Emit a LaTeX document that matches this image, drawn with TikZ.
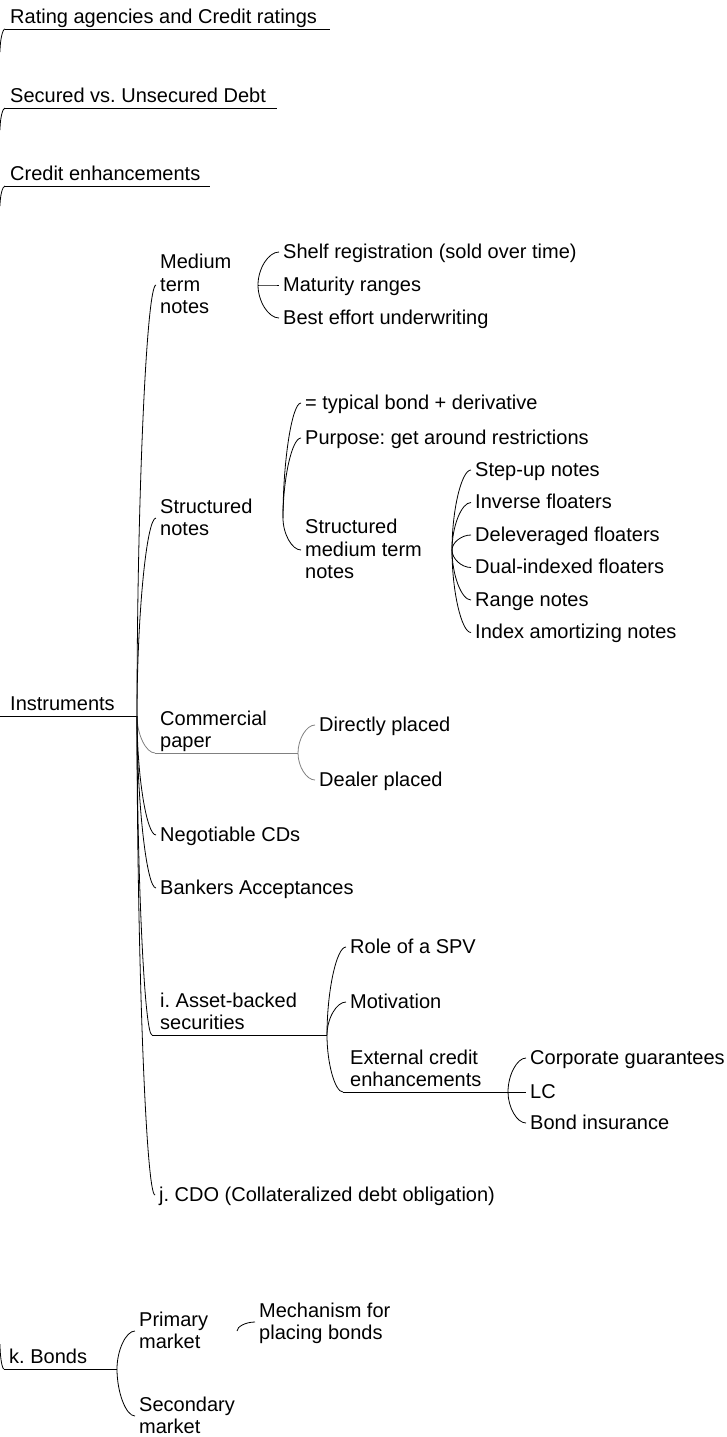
\documentclass[tikz,border=0pt]{standalone}
\usepackage{fontspec}
\setmainfont{Liberation Sans}
\usetikzlibrary{calc}
\frenchspacing

% text block of a topic: one or more left-aligned lines
\newcommand\topictext[1]{\begin{tabular}{@{}l@{}}#1\end{tabular}}
% topic font with a strut centred on the letters
\newcommand\mapfont{\fontsize{20}{22.5}\selectfont\setbox\strutbox\hbox{\vrule height 17.5pt depth 5pt width 0pt}}

\tikzset{
  topic/.style={anchor=west, inner xsep=4pt, inner ysep=0pt, font=\mapfont},
  lined/.style={topic, anchor=south west},
  link/.style={line width=0.8pt, draw=black},
  soft/.style={draw=black!50},
}

% curved connector: leaves the junction vertically, reaches the topic horizontally
\newcommand\conn[3][]{\draw[link,#1] let \p1=(#2), \p2=(#3) in
  (#2) .. controls (\x1,{0.5*\y1+0.5*\y2}) and ({0.5*\x1+0.5*\x2},\y2) .. (#3);}

\begin{document}
\begin{tikzpicture}[x=1pt,y=-1pt]
\useasboundingbox (0,0) rectangle (727,1437);

% ---------------- main topics on the left ----------------
\node[lined, inner xsep=5pt] (rat) at (5,29) {\topictext{Rating agencies and Credit ratings}};
\coordinate (ratj) at (330,29);
\coordinate (rat0) at (0,52);
\draw[link] (rat.south west) -- (ratj);
\conn{rat0}{rat.south west}

\node[lined, inner xsep=5pt] (sec) at (5,108) {\topictext{Secured vs. Unsecured Debt}};
\coordinate (secj) at (277,108);
\coordinate (sec0) at (0,130);
\draw[link] (sec.south west) -- (secj);
\conn{sec0}{sec.south west}

\node[lined, inner xsep=5pt] (cre) at (5,186) {\topictext{Credit enhancements}};
\coordinate (crej) at (210,186);
\coordinate (cre0) at (0,206);
\draw[link] (cre.south west) -- (crej);
\conn{cre0}{cre.south west}

\node[lined, inner xsep=10pt] (ins) at (0,716) {\topictext{Instruments}};
\coordinate (insj) at (137,716);
\draw[link] (ins.south west) -- (insj);

\node[lined, inner xsep=5pt] (kb) at (4,1369) {\topictext{k. Bonds}};
\coordinate (kbj) at (117,1369);
\coordinate (kb0) at (0,1344);
\draw[link] (kb.south west) -- (kbj);
\conn{kb0}{kb.south west}

% ---------------- Instruments ----------------
\node[topic] (mtn) at (156,285) {\topictext{Medium\\term\\notes}};
\node[topic] (sn)  at (156,518) {\topictext{Structured\\notes}};
\node[lined, inner xsep=5pt] (cp) at (155,753) {\topictext{Commercial\\paper}};
\node[topic] (nc)  at (156,835) {\topictext{Negotiable CDs}};
\node[topic] (ba)  at (156,888) {\topictext{Bankers Acceptances}};
\node[lined, inner xsep=8pt] (abs) at (152,1035) {\topictext{i. Asset-backed\\securities}};
\node[topic] (cdo) at (155,1195) {\topictext{j. CDO (Collateralized debt obligation)}};

\conn{insj}{mtn.west}
\conn{insj}{sn.west}
\conn[soft]{insj}{cp.south west}
\conn{insj}{nc.west}
\conn{insj}{ba.west}
\conn{insj}{abs.south west}
\conn{insj}{cdo.west}

% Medium term notes
\coordinate (mtnj) at (258,285);
\node[topic] (shelf) at (279,252) {\topictext{Shelf registration (sold over time)}};
\node[topic] (mat)   at (279,285) {\topictext{Maturity ranges}};
\node[topic] (best)  at (279,318) {\topictext{Best effort underwriting}};
\conn{mtnj}{shelf.west}
\conn{mtnj}{mat.west}
\conn{mtnj}{best.west}

% Structured notes
\coordinate (snj) at (283,518);
\node[topic] (typ)  at (301,403) {\topictext{= typical bond + derivative}};
\node[topic] (pur)  at (301,438) {\topictext{Purpose: get around restrictions}};
\node[topic] (smtn) at (301,550) {\topictext{Structured\\medium term\\notes}};
\conn{snj}{typ.west}
\conn{snj}{pur.west}
\conn{snj}{smtn.west}

\coordinate (smtnj) at (452,550);
\node[topic] (stepup) at (471,470)   {\topictext{Step-up notes}};
\node[topic] (inv)    at (471,502.5) {\topictext{Inverse floaters}};
\node[topic] (delev)  at (471,535)   {\topictext{Deleveraged floaters}};
\node[topic] (dual)   at (471,567.5) {\topictext{Dual-indexed floaters}};
\node[topic] (range)  at (471,600)   {\topictext{Range notes}};
\node[topic] (index)  at (471,632.5) {\topictext{Index amortizing notes}};
\conn{smtnj}{stepup.west}
\conn{smtnj}{inv.west}
\conn{smtnj}{delev.west}
\conn{smtnj}{dual.west}
\conn{smtnj}{range.west}
\conn{smtnj}{index.west}

% Commercial paper
\coordinate (cpj) at (298,753);
\draw[link, soft] (cp.south west) -- (cpj);
\node[topic] (dir) at (315,725) {\topictext{Directly placed}};
\node[topic] (dea) at (315,780) {\topictext{Dealer placed}};
\conn[soft]{cpj}{dir.west}
\conn[soft]{cpj}{dea.west}

% Asset-backed securities
\coordinate (absj) at (327,1035);
\draw[link] (abs.south west) -- (absj);
\node[topic] (spv) at (346,947)  {\topictext{Role of a SPV}};
\node[topic] (mot) at (346,1002) {\topictext{Motivation}};
\node[lined, inner xsep=7pt] (ece) at (343,1092) {\topictext{External credit\\enhancements}};
\conn{absj}{spv.west}
\conn{absj}{mot.west}
\conn{absj}{ece.south west}

\coordinate (ecej) at (508,1092);
\draw[link] (ece.south west) -- (ecej);
\node[topic] (cg) at (526,1058) {\topictext{Corporate guarantees}};
\node[topic] (lc) at (526,1092) {\topictext{LC}};
\node[topic] (bi) at (526,1123) {\topictext{Bond insurance}};
\conn{ecej}{cg.west}
\conn{ecej}{lc.west}
\conn{ecej}{bi.west}

% ---------------- Bonds ----------------
\node[topic] (pm) at (135,1331) {\topictext{Primary\\market}};
\node[topic] (sm) at (135,1416) {\topictext{Secondary\\market}};
\conn{kbj}{pm.west}
\conn{kbj}{sm.west}

\coordinate (pmj) at (237,1331);
\node[topic] (mech) at (255,1322) {\topictext{Mechanism for\\placing bonds}};
\conn{pmj}{mech.west}

\end{tikzpicture}
\end{document}
